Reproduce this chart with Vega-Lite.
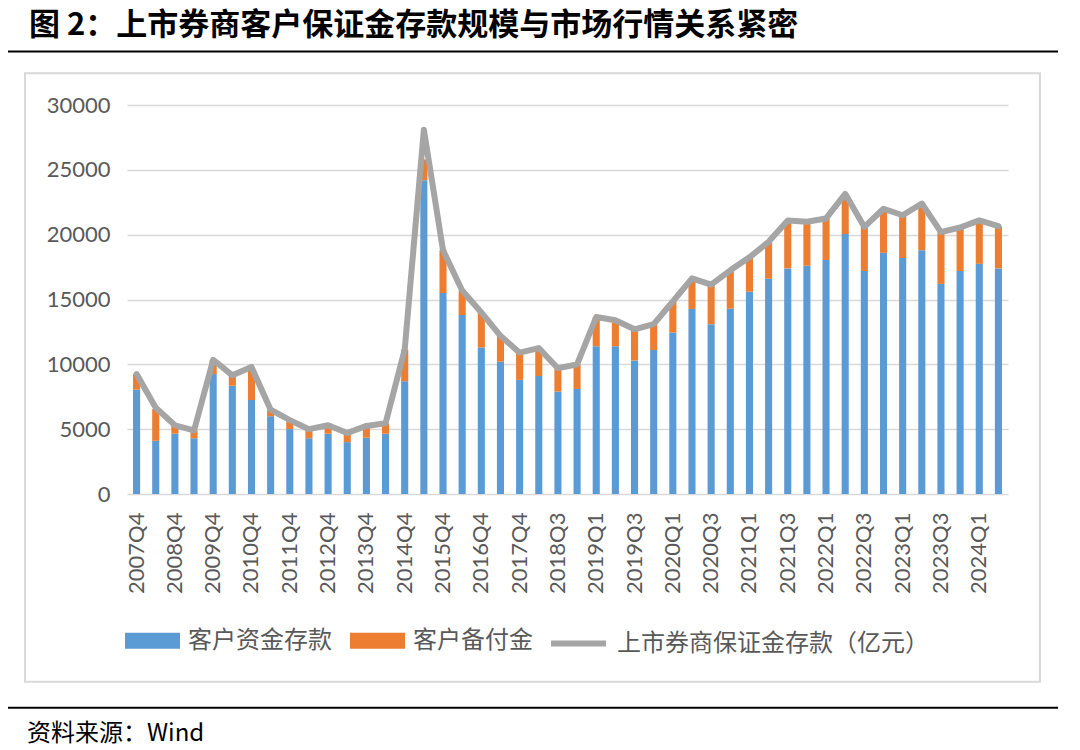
{
  "$schema": "https://vega.github.io/schema/vega-lite/v6.json",
  "width": 881,
  "height": 389,
  "autosize": {"type": "none"},
  "padding": {"left": 127, "top": 105, "right": 72, "bottom": 256},
  "background": "white",
  "config": {"view": {"stroke": null}, "font": "Lato"},
  "datasets": {
    "main": [
      {"q": "2007Q4", "客户资金存款": 8050, "客户备付金": 1200, "上市券商保证金存款": 9250},
      {"q": "2008Q2", "客户资金存款": 4100, "客户备付金": 2450, "上市券商保证金存款": 6650},
      {"q": "2008Q4", "客户资金存款": 4650, "客户备付金": 650, "上市券商保证金存款": 5300},
      {"q": "2009Q2", "客户资金存款": 4300, "客户备付金": 600, "上市券商保证金存款": 4900},
      {"q": "2009Q4", "客户资金存款": 9250, "客户备付金": 1100, "上市券商保证金存款": 10350},
      {"q": "2010Q2", "客户资金存款": 8350, "客户备付金": 800, "上市券商保证金存款": 9150},
      {"q": "2010Q4", "客户资金存款": 7250, "客户备付金": 2550, "上市券商保证金存款": 9800},
      {"q": "2011Q2", "客户资金存款": 6000, "客户备付金": 500, "上市券商保证金存款": 6500},
      {"q": "2011Q4", "客户资金存款": 5000, "客户备付金": 700, "上市券商保证金存款": 5700},
      {"q": "2012Q2", "客户资金存款": 4300, "客户备付金": 700, "上市券商保证金存款": 5000},
      {"q": "2012Q4", "客户资金存款": 4650, "客户备付金": 650, "上市券商保证金存款": 5300},
      {"q": "2013Q2", "客户资金存款": 4000, "客户备付金": 700, "上市券商保证金存款": 4700},
      {"q": "2013Q4", "客户资金存款": 4350, "客户备付金": 900, "上市券商保证金存款": 5250},
      {"q": "2014Q2", "客户资金存款": 4650, "客户备付金": 800, "上市券商保证金存款": 5450},
      {"q": "2014Q4", "客户资金存款": 8700, "客户备付金": 2450, "上市券商保证金存款": 11150},
      {"q": "2015Q2", "客户资金存款": 24200, "客户备付金": 1600, "上市券商保证金存款": 28100},
      {"q": "2015Q4", "客户资金存款": 15500, "客户备付金": 3300, "上市券商保证金存款": 18800},
      {"q": "2016Q2", "客户资金存款": 13800, "客户备付金": 1900, "上市券商保证金存款": 15700},
      {"q": "2016Q4", "客户资金存款": 11300, "客户备付金": 2700, "上市券商保证金存款": 14000},
      {"q": "2017Q2", "客户资金存款": 10200, "客户备付金": 2000, "上市券商保证金存款": 12200},
      {"q": "2017Q4", "客户资金存款": 8800, "客户备付金": 2100, "上市券商保证金存款": 10900},
      {"q": "2018Q2", "客户资金存款": 9100, "客户备付金": 2150, "上市券商保证金存款": 11250},
      {"q": "2018Q3", "客户资金存款": 7900, "客户备付金": 1800, "上市券商保证金存款": 9700},
      {"q": "2018Q4", "客户资金存款": 8100, "客户备付金": 1900, "上市券商保证金存款": 10000},
      {"q": "2019Q1", "客户资金存款": 11400, "客户备付金": 2250, "上市券商保证金存款": 13650},
      {"q": "2019Q2", "客户资金存款": 11400, "客户备付金": 2000, "上市券商保证金存款": 13400},
      {"q": "2019Q3", "客户资金存款": 10300, "客户备付金": 2400, "上市券商保证金存款": 12700},
      {"q": "2019Q4", "客户资金存款": 11100, "客户备付金": 2000, "上市券商保证金存款": 13100},
      {"q": "2020Q1", "客户资金存款": 12450, "客户备付金": 2400, "上市券商保证金存款": 14850},
      {"q": "2020Q2", "客户资金存款": 14270, "客户备付金": 2360, "上市券商保证金存款": 16630},
      {"q": "2020Q3", "客户资金存款": 13100, "客户备付金": 3050, "上市券商保证金存款": 16150},
      {"q": "2020Q4", "客户资金存款": 14300, "客户备付金": 2950, "上市券商保证金存款": 17250},
      {"q": "2021Q1", "客户资金存款": 15600, "客户备付金": 2650, "上市券商保证金存款": 18250},
      {"q": "2021Q2", "客户资金存款": 16600, "客户备付金": 2850, "上市券商保证金存款": 19450},
      {"q": "2021Q3", "客户资金存款": 17400, "客户备付金": 3700, "上市券商保证金存款": 21100},
      {"q": "2021Q4", "客户资金存款": 17600, "客户备付金": 3400, "上市券商保证金存款": 21000},
      {"q": "2022Q1", "客户资金存款": 18050, "客户备付金": 3200, "上市券商保证金存款": 21250},
      {"q": "2022Q2", "客户资金存款": 20050, "客户备付金": 3100, "上市券商保证金存款": 23150},
      {"q": "2022Q3", "客户资金存款": 17200, "客户备付金": 3400, "上市券商保证金存款": 20600},
      {"q": "2022Q4", "客户资金存款": 18600, "客户备付金": 3400, "上市券商保证金存款": 22000},
      {"q": "2023Q1", "客户资金存款": 18200, "客户备付金": 3300, "上市券商保证金存款": 21500},
      {"q": "2023Q2", "客户资金存款": 18800, "客户备付金": 3600, "上市券商保证金存款": 22400},
      {"q": "2023Q3", "客户资金存款": 16200, "客户备付金": 4000, "上市券商保证金存款": 20200},
      {"q": "2023Q4", "客户资金存款": 17200, "客户备付金": 3350, "上市券商保证金存款": 20550},
      {"q": "2024Q1", "客户资金存款": 17750, "客户备付金": 3350, "上市券商保证金存款": 21100},
      {"q": "2024Q2", "客户资金存款": 17400, "客户备付金": 3250, "上市券商保证金存款": 20650}
    ]
  },
  "layer": [
    {
      "data": {"name": "main"},
      "layer": [
        {
          "transform": [{"fold": ["客户资金存款", "客户备付金"], "as": ["系列", "金额"]}],
          "mark": {"type": "bar", "width": {"band": 0.37}},
          "encoding": {
            "x": {
              "field": "q", "type": "ordinal", "sort": null,
              "scale": {"paddingInner": 0, "paddingOuter": 0},
              "axis": {
                "title": null,
                "values": ["2007Q4","2008Q4","2009Q4","2010Q4","2011Q4","2012Q4","2013Q4","2014Q4","2015Q4","2016Q4","2017Q4","2018Q3","2019Q1","2019Q3","2020Q1","2020Q3","2021Q1","2021Q3","2022Q1","2022Q3","2023Q1","2023Q3","2024Q1"],
                "labelAngle": -90, "labelAlign": "right", "labelBaseline": "middle",
                "labelFont": "Lato", "labelFontSize": 22, "labelColor": "#595959",
                "labelPadding": 18, "ticks": false, "domain": false, "grid": false,
                "labelOverlap": false
              }
            },
            "y": {
              "field": "金额", "type": "quantitative", "stack": "zero",
              "scale": {"domain": [0, 30000], "nice": false},
              "axis": {
                "title": null, "values": [0, 5000, 10000, 15000, 20000, 25000, 30000],
                "format": "d", "labelFont": "Lato", "labelFontSize": 22, "labelColor": "#595959",
                "labelPadding": 17, "ticks": false, "domain": false, "grid": true,
                "gridColor": "#D9D9D9", "gridWidth": 1.3
              }
            },
            "color": {
              "field": "系列", "type": "nominal",
              "scale": {"domain": ["客户资金存款", "客户备付金"], "range": ["#5B9BD5", "#ED7D31"]},
              "legend": {
                "title": null, "orient": "none", "legendX": -2, "legendY": 508,
                "direction": "horizontal",
                "symbolType": "M-1,-0.29H1V0.29H-1Z", "symbolSize": 3025, "symbolStrokeWidth": 0,
                "labelFont": "Noto Sans CJK SC", "labelFontSize": 24, "labelColor": "#595959",
                "labelOffset": 8, "columnPadding": 18, "padding": 0, "labelLimit": 0
              }
            },
            "order": {"field": "系列", "type": "ordinal", "sort": "descending"}
          }
        },
        {
          "mark": {"type": "line", "strokeWidth": 6, "strokeJoin": "round", "strokeCap": "round"},
          "encoding": {
            "x": {"field": "q", "type": "ordinal", "sort": null},
            "y": {"field": "上市券商保证金存款", "type": "quantitative"},
            "stroke": {
              "datum": "上市券商保证金存款（亿元）", "type": "nominal",
              "scale": {"range": ["#A5A5A5"]},
              "legend": {
                "title": null, "orient": "none", "legendX": 421, "legendY": 508,
                "symbolType": "stroke", "symbolSize": 3025, "symbolStrokeWidth": 6,
                "labelFont": "Noto Sans CJK SC", "labelFontSize": 24, "labelColor": "#595959",
                "labelOffset": 8, "padding": 0, "labelLimit": 0
              }
            }
          }
        }
      ]
    },
    {
      "data": {"values": [{}]},
      "layer": [
        {
          "mark": {"type": "rect", "filled": false, "stroke": "#D9D9D9", "strokeWidth": 2},
          "encoding": {
            "x": {"datum": -0.1158, "type": "quantitative", "scale": {"domain": [0, 1]}, "axis": null},
            "x2": {"datum": 1.0363},
            "y": {"datum": 1.0815, "type": "quantitative", "scale": {"domain": [0, 1]}, "axis": null},
            "y2": {"datum": -0.4825}
          }
        },
        {
          "mark": {"type": "rule", "color": "#000000", "strokeWidth": 2},
          "encoding": {
            "x": {"datum": -0.1351, "type": "quantitative", "scale": {"domain": [0, 1]}, "axis": null},
            "x2": {"datum": 1.0568},
            "y": {"datum": 1.1373, "type": "quantitative", "scale": {"domain": [0, 1]}, "axis": null}
          }
        },
        {
          "mark": {"type": "rule", "color": "#000000", "strokeWidth": 2},
          "encoding": {
            "x": {"datum": -0.1351, "type": "quantitative", "scale": {"domain": [0, 1]}, "axis": null},
            "x2": {"datum": 1.0568},
            "y": {"datum": -0.5494, "type": "quantitative", "scale": {"domain": [0, 1]}, "axis": null}
          }
        },
        {
          "mark": {"type": "text", "text": "图 2：上市券商客户保证金存款规模与市场行情关系紧密", "align": "left", "baseline": "middle", "font": "Noto Sans CJK SC", "fontWeight": "bold", "fontSize": 31, "color": "#000000"},
          "encoding": {
            "x": {"datum": -0.1112, "type": "quantitative", "scale": {"domain": [0, 1]}, "axis": null},
            "y": {"datum": 1.2031, "type": "quantitative", "scale": {"domain": [0, 1]}, "axis": null}
          }
        },
        {
          "mark": {"type": "text", "text": "资料来源：Wind", "align": "left", "baseline": "middle", "font": "Noto Sans CJK SC", "fontSize": 24, "color": "#000000"},
          "encoding": {
            "x": {"datum": -0.1135, "type": "quantitative", "scale": {"domain": [0, 1]}, "axis": null},
            "y": {"datum": -0.617, "type": "quantitative", "scale": {"domain": [0, 1]}, "axis": null}
          }
        }
      ]
    }
  ],
  "resolve": {"scale": {"x": "independent", "y": "independent"}}
}
